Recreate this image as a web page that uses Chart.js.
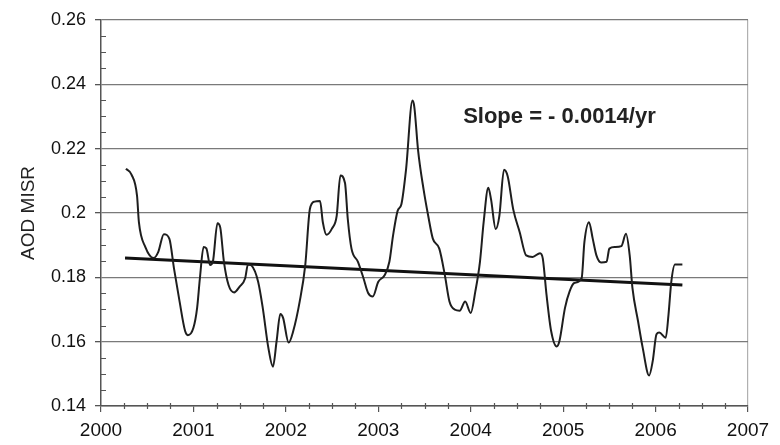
<!DOCTYPE html>
<html>
<head>
<meta charset="utf-8">
<script src="https://cdn.jsdelivr.net/npm/chart.js@4"></script>
<style>
  html, body { margin: 0; padding: 0; background: #fff; }
  #wrap { width: 780px; height: 445px; }
</style>
</head>
<body>
<div id="wrap"><canvas id="myChart" width="780" height="445"></canvas></div>
<script>
// smoothed monthly AOD (MISR)
const years = [
  2000.27, 2000.33, 2000.39, 2000.41, 2000.48, 2000.57, 2000.62, 2000.68, 2000.74, 2000.79,
  2000.85, 2000.91, 2000.94, 2001.00, 2001.04, 2001.07, 2001.11, 2001.14, 2001.18, 2001.21,
  2001.26, 2001.29, 2001.33, 2001.38, 2001.44, 2001.50, 2001.56, 2001.59, 2001.63, 2001.70,
  2001.75, 2001.81, 2001.86, 2001.90, 2001.94, 2001.97, 2002.03, 2002.08, 2002.15, 2002.21,
  2002.26, 2002.31, 2002.37, 2002.40, 2002.44, 2002.50, 2002.55, 2002.59, 2002.64, 2002.67,
  2002.71, 2002.78, 2002.84, 2002.89, 2002.94, 2003.00, 2003.07, 2003.12, 2003.16, 2003.21,
  2003.25, 2003.30, 2003.37, 2003.39, 2003.43, 2003.49, 2003.54, 2003.59, 2003.66, 2003.72,
  2003.77, 2003.83, 2003.88, 2003.94, 2004.00, 2004.05, 2004.10, 2004.14, 2004.19, 2004.22,
  2004.27, 2004.31, 2004.36, 2004.40, 2004.46, 2004.53, 2004.60, 2004.67, 2004.75, 2004.78,
  2004.82, 2004.87, 2004.93, 2004.96, 2005.02, 2005.07, 2005.12, 2005.20, 2005.23, 2005.28,
  2005.32, 2005.36, 2005.41, 2005.47, 2005.50, 2005.56, 2005.63, 2005.68, 2005.72, 2005.75,
  2005.81, 2005.86, 2005.93, 2005.97, 2006.01, 2006.04, 2006.11, 2006.14, 2006.17, 2006.21,
  2006.29
];
const aod = [
  0.2137, 0.2119, 0.2053, 0.1971, 0.1894, 0.1860, 0.1879, 0.1934, 0.1919, 0.1827,
  0.1725, 0.1633, 0.1620, 0.1643, 0.1705, 0.1797, 0.1894, 0.1890, 0.1838, 0.1848,
  0.1968, 0.1955, 0.1848, 0.1776, 0.1753, 0.1771, 0.1797, 0.1840, 0.1836, 0.1786,
  0.1705, 0.1582, 0.1522, 0.1602, 0.1686, 0.1674, 0.1597, 0.1633, 0.1725, 0.1838,
  0.2012, 0.2035, 0.2037, 0.1971, 0.1932, 0.1952, 0.1991, 0.2116, 0.2093, 0.1981,
  0.1889, 0.1848, 0.1797, 0.1751, 0.1740, 0.1786, 0.1807, 0.1848, 0.1930, 0.2007,
  0.2027, 0.2134, 0.2349, 0.2329, 0.2196, 0.2073, 0.1991, 0.1920, 0.1889, 0.1807,
  0.1725, 0.1699, 0.1696, 0.1725, 0.1689, 0.1756, 0.1848, 0.1971, 0.2078, 0.2042,
  0.1950, 0.1991, 0.2134, 0.2114, 0.2011, 0.1940, 0.1868, 0.1863, 0.1875, 0.1858,
  0.1746, 0.1633, 0.1585, 0.1602, 0.1705, 0.1756, 0.1782, 0.1797, 0.1909, 0.1971,
  0.1920, 0.1868, 0.1846, 0.1848, 0.1889, 0.1894, 0.1897, 0.1935, 0.1868, 0.1766,
  0.1664, 0.1582, 0.1495, 0.1541, 0.1623, 0.1628, 0.1612, 0.1684, 0.1786, 0.1840,
  0.1840
];

// linear trend end points
const trendYears = [2000.26, 2006.29];
const trendAod = [0.1860, 0.1776];

const slopeText = 'Slope = - 0.0014/yr';
const yTitle = 'AOD MISR';

const xMin = 2000, xMax = 2007;
const yMin = 0.14, yMax = 0.26;

const font = "'Liberation Sans', Arial, sans-serif";

// minor ticks + slope label
const extras = {
  id: 'extras',
  afterDraw(chart) {
    const c = chart.ctx;
    const xs = chart.scales.x, ys = chart.scales.y;
    c.save();
    c.strokeStyle = '#555';
    c.lineWidth = 1.2;
    c.beginPath();
    for (let v = xMin; v <= xMax + 1e-9; v += 0.25) {
      if (Math.abs(v - Math.round(v)) < 1e-6) continue;
      const px = Math.round(xs.getPixelForValue(v)) + 0.5;
      c.moveTo(px, ys.bottom - 3);
      c.lineTo(px, ys.bottom + 3);
    }
    for (let v = yMin; v <= yMax + 1e-9; v += 0.005) {
      if (Math.abs(v / 0.02 - Math.round(v / 0.02)) < 1e-6) continue;
      const py = Math.round(ys.getPixelForValue(v)) + 0.5;
      c.moveTo(xs.left, py);
      c.lineTo(xs.left + 5, py);
    }
    c.stroke();

    c.fillStyle = '#222';
    c.font = 'bold 22px ' + font;
    c.textAlign = 'center';
    c.textBaseline = 'middle';
    c.fillText(slopeText, xs.getPixelForValue(2004.96), ys.getPixelForValue(0.2298));
    c.restore();
  }
};

const ctx = document.getElementById('myChart');

new Chart(ctx, {
  type: 'scatter',
  data: {
    datasets: [{
      label: 'AOD',
      data: years.map((x, i) => ({ x: x, y: aod[i] })),
      showLine: true,
      borderColor: '#1e1e1e',
      borderWidth: 2,
      pointRadius: 0,
      cubicInterpolationMode: 'monotone'
    }, {
      label: 'Trend',
      data: trendYears.map((x, i) => ({ x: x, y: trendAod[i] })),
      showLine: true,
      borderColor: '#111',
      borderWidth: 3,
      pointRadius: 0
    }]
  },
  options: {
    responsive: false,
    animation: false,
    layout: { padding: { top: 15, right: 32, left: 0, bottom: 0 } },
    plugins: {
      legend: { display: false },
      tooltip: { enabled: false }
    },
    scales: {
      x: {
        type: 'linear',
        min: xMin,
        max: xMax,
        afterFit(scale) { scale.height = 39; },
        ticks: {
          stepSize: 1,
          color: '#111',
          padding: 7,
          maxRotation: 0,
          font: { size: 19, family: font },
          callback: v => String(v)
        },
        grid: {
          color: ctx => ctx.tick && ctx.tick.value === xMax ? '#b0b0b0' : 'rgba(0,0,0,0)',
          tickColor: '#555',
          tickLength: 6,
          lineWidth: 1.2
        },
        border: { color: '#555', width: 1.5 }
      },
      y: {
        min: yMin,
        max: yMax,
        afterFit(scale) { scale.width = 101; },
        title: {
          display: true,
          text: yTitle,
          color: '#222',
          font: { size: 19, family: font },
          padding: { top: 17, bottom: 0 }
        },
        ticks: {
          stepSize: 0.02,
          color: '#111',
          padding: 9,
          font: { size: 18, family: font },
          callback: v => String(Math.round(v * 100) / 100)
        },
        grid: {
          color: '#7a7a7a',
          tickColor: '#555',
          tickLength: 6,
          lineWidth: 1.3
        },
        border: { color: '#555', width: 1.5 }
      }
    }
  },
  plugins: [extras]
});
</script>
</body>
</html>
